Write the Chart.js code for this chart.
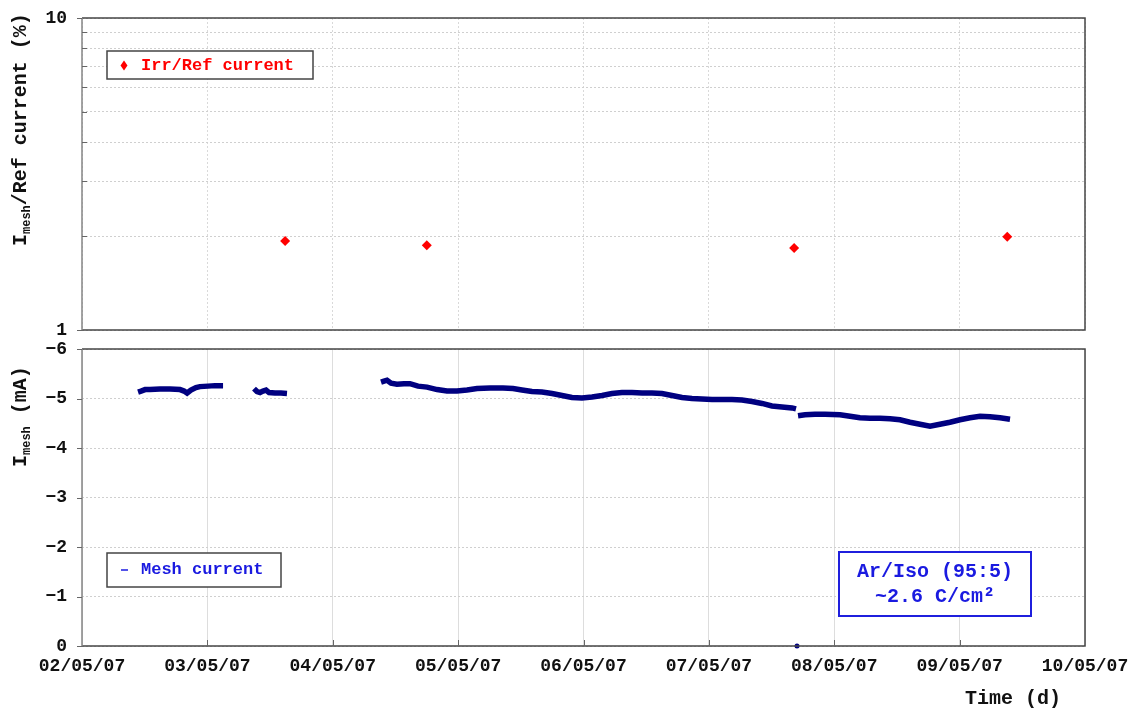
<!DOCTYPE html>
<html>
<head>
<meta charset="utf-8">
<title>Mesh current</title>
<script src="https://cdn.jsdelivr.net/npm/chart.js@4.4.1/dist/chart.umd.min.js"></script>
<style>
  html, body { margin: 0; padding: 0; background: #fff; }
  #wrap { position: relative; width: 1137px; height: 711px; }
  .panel { position: absolute; left: 0; width: 1137px; }
  #topPanel { top: 0; height: 340px; }
  #bottomPanel { top: 340px; height: 371px; }
</style>
</head>
<body>
<div id="wrap">
  <div class="panel" id="topPanel"><canvas id="ratioChart"></canvas></div>
  <div class="panel" id="bottomPanel"><canvas id="meshChart"></canvas></div>
</div>
<script>
// Days counted from 02/05/07 00:00
const dayLabels = ['02/05/07', '03/05/07', '04/05/07', '05/05/07', '06/05/07', '07/05/07', '08/05/07', '09/05/07', '10/05/07'];

// Irr/Ref current ratio (%)
const ratioTicks = [1, 10];
const ratioGrid = [1, 2, 3, 4, 5, 6, 7, 8, 9, 10];
const ratioDays = [1.62, 2.75, 5.68, 7.38];
const ratioValues = [1.93, 1.87, 1.83, 1.99];

// Mesh current (mA); null = no data logged
const meshTicks = [-6, -5, -4, -3, -2, -1, 0];
const meshDays = [
  0.447, 0.471, 0.503, 0.542, 0.622, 0.702, 0.782, 0.814, 0.838, 0.869, 0.909, 0.941, 1.005, 1.061, 1.125,
  1.25,
  1.372, 1.396, 1.420, 1.444, 1.468, 1.492, 1.539, 1.587, 1.635,
  2.0,
  2.385, 2.409, 2.433, 2.465, 2.512, 2.568, 2.616, 2.680, 2.752, 2.832, 2.911, 2.991, 3.071, 3.151, 3.254,
  3.358, 3.438, 3.509, 3.589, 3.669, 3.749, 3.829, 3.908, 3.988, 4.068, 4.148, 4.227, 4.307, 4.387, 4.467,
  4.546, 4.626, 4.706, 4.786, 4.865, 4.945, 5.025, 5.105, 5.184, 5.264, 5.344, 5.424, 5.503, 5.583, 5.663, 5.695,
  5.699, 5.703, 5.707,
  5.711, 5.767, 5.846, 5.926, 6.046, 6.126, 6.205, 6.285, 6.365, 6.445, 6.524, 6.604, 6.684, 6.764, 6.843,
  6.923, 7.003, 7.083, 7.163, 7.242, 7.322, 7.402
];
const meshCurrent = [
  -5.13, -5.15, -5.18, -5.18, -5.19, -5.19, -5.18, -5.15, -5.11, -5.17, -5.22, -5.24, -5.25, -5.26, -5.26,
  null,
  -5.20, -5.14, -5.12, -5.15, -5.17, -5.12, -5.11, -5.11, -5.10,
  null,
  -5.33, -5.35, -5.37, -5.31, -5.29, -5.30, -5.30, -5.25, -5.23, -5.18, -5.15, -5.15, -5.17, -5.20, -5.21,
  -5.21, -5.20, -5.17, -5.14, -5.13, -5.10, -5.06, -5.02, -5.01, -5.03, -5.06, -5.10, -5.12, -5.12, -5.11,
  -5.11, -5.10, -5.06, -5.02, -5.00, -4.99, -4.98, -4.98, -4.98, -4.97, -4.94, -4.90, -4.85, -4.83, -4.81, -4.79,
  null, 0, null,
  -4.65, -4.67, -4.68, -4.68, -4.67, -4.64, -4.61, -4.60, -4.60, -4.59, -4.57, -4.52, -4.48, -4.44, -4.48,
  -4.52, -4.57, -4.61, -4.64, -4.63, -4.61, -4.58
];

const MONO = "'Liberation Mono', 'Courier New', monospace";
const AXIS_W = 82;
const RIGHT_PAD = 52;
const GRID = '#cfcfcf';

// fixed y axis width, and no extra room for the end labels
function fitYAxis(s) {
  s.width = AXIS_W;
  s.paddingTop = 0;
  s.paddingBottom = 0;
}

// box round the plot area plus the small tick marks
const panelFrame = {
  id: 'panelFrame',
  afterDatasetsDraw(chart, args, opts) {
    const { ctx, chartArea: a, scales } = chart;
    ctx.save();
    ctx.lineWidth = 1.5;
    ctx.strokeStyle = '#454545';
    ctx.beginPath();
    ctx.moveTo(a.left, a.top);
    ctx.lineTo(a.right, a.top);
    ctx.lineTo(a.right, a.bottom);
    ctx.lineTo(a.left, a.bottom);
    ctx.stroke();
    ctx.strokeStyle = '#858585';
    ctx.beginPath();
    ctx.moveTo(a.left, a.top);
    ctx.lineTo(a.left, a.bottom);
    ctx.stroke();

    ctx.lineWidth = 1;
    ctx.strokeStyle = '#666';
    ctx.beginPath();
    (opts.outerY || []).forEach(v => {
      const y = Math.round(scales.y.getPixelForValue(v)) + 0.5;
      ctx.moveTo(a.left - 5, y); ctx.lineTo(a.left, y);
    });
    (opts.innerY || []).forEach(v => {
      const y = Math.round(scales.y.getPixelForValue(v)) + 0.5;
      ctx.moveTo(a.left, y); ctx.lineTo(a.left + 5, y);
    });
    (opts.innerX || []).forEach(v => {
      const x = Math.round(scales.x.getPixelForValue(v)) + 0.5;
      ctx.moveTo(x, a.bottom); ctx.lineTo(x, a.bottom - 6);
    });
    ctx.stroke();
    ctx.restore();
  }
};

// rotated axis title with a subscript part
function drawAxisTitle(ctx, x, yStart, parts) {
  ctx.save();
  ctx.translate(x, yStart);
  ctx.rotate(-Math.PI / 2);
  ctx.fillStyle = '#111';
  ctx.textBaseline = 'alphabetic';
  ctx.textAlign = 'left';
  let pos = 0;
  parts.forEach(p => {
    ctx.font = `bold ${p.size}px ${MONO}`;
    ctx.fillText(p.text, pos, p.dy || 0);
    pos += ctx.measureText(p.text).width;
  });
  ctx.restore();
}

const ratioOverlay = {
  id: 'ratioOverlay',
  afterDraw(chart) {
    const { ctx, chartArea: a } = chart;
    drawAxisTitle(ctx, 26, 246, [
      { text: 'I', size: 20 },
      { text: 'mesh', size: 12, dy: 4 },
      { text: '/Ref current (%)', size: 20 }
    ]);
    // legend box
    ctx.save();
    ctx.fillStyle = '#fff';
    ctx.fillRect(a.left + 25, 51, 206, 28);
    ctx.lineWidth = 1.5;
    ctx.strokeStyle = '#444';
    ctx.strokeRect(a.left + 25, 51, 206, 28);
    ctx.fillStyle = '#ff0000';
    ctx.beginPath();
    ctx.moveTo(a.left + 42, 60.5); ctx.lineTo(a.left + 45.5, 65.5);
    ctx.lineTo(a.left + 42, 70.5); ctx.lineTo(a.left + 38.5, 65.5);
    ctx.closePath(); ctx.fill();
    ctx.font = `bold 17px ${MONO}`;
    ctx.textBaseline = 'middle';
    ctx.fillText('Irr/Ref current', a.left + 59, 66);
    ctx.restore();
  }
};

const meshOverlay = {
  id: 'meshOverlay',
  afterDraw(chart) {
    const { ctx, chartArea: a } = chart;
    drawAxisTitle(ctx, 26, 127, [
      { text: 'I', size: 20 },
      { text: 'mesh', size: 12, dy: 4 },
      { text: ' (mA)', size: 20 }
    ]);
    ctx.save();
    // legend box
    ctx.fillStyle = '#fff';
    ctx.fillRect(a.left + 25, 213, 174, 34);
    ctx.lineWidth = 1.5;
    ctx.strokeStyle = '#444';
    ctx.strokeRect(a.left + 25, 213, 174, 34);
    ctx.strokeStyle = '#1a1ae0';
    ctx.lineWidth = 1.5;
    ctx.beginPath(); ctx.moveTo(a.left + 39, 230); ctx.lineTo(a.left + 46, 230); ctx.stroke();
    ctx.fillStyle = '#1a1ae0';
    ctx.font = `bold 17px ${MONO}`;
    ctx.textBaseline = 'middle';
    ctx.textAlign = 'left';
    ctx.fillText('Mesh current', a.left + 59, 230);
    // gas / charge note
    ctx.fillStyle = '#fff';
    ctx.fillRect(839, 212, 192, 64);
    ctx.lineWidth = 2;
    ctx.strokeStyle = '#1f1fdd';
    ctx.strokeRect(839, 212, 192, 64);
    ctx.fillStyle = '#1a1ae0';
    ctx.font = `bold 20px ${MONO}`;
    ctx.textAlign = 'center';
    ctx.fillText('Ar/Iso (95:5)', 935, 232);
    ctx.fillText('~2.6 C/cm\u00b2', 935, 257);
    // x axis title
    ctx.fillStyle = '#111';
    ctx.fillText('Time (d)', 1013, 359);
    ctx.restore();
  }
};

const ratioCtx = document.getElementById('ratioChart');
new Chart(ratioCtx.getContext('2d'), {
  type: 'scatter',
  data: {
    datasets: [{
      label: 'Irr/Ref current',
      data: ratioDays.map((d, i) => ({ x: d, y: ratioValues[i] })),
      pointStyle: 'rectRot',
      pointRadius: 5,
      backgroundColor: '#ff0000',
      borderColor: '#ff0000',
      borderWidth: 0
    }]
  },
  options: {
    responsive: true,
    maintainAspectRatio: false,
    animation: false,
    layout: { padding: { top: 18, right: RIGHT_PAD, bottom: 10, left: 0 } },
    plugins: {
      legend: { display: false },
      tooltip: { enabled: false },
      panelFrame: { outerY: ratioTicks, innerY: [2, 3, 4, 5, 6, 7, 8, 9] }
    },
    scales: {
      x: {
        type: 'linear', min: 0, max: 8,
        ticks: { display: false, stepSize: 1 },
        grid: { color: '#d9d9d9', drawTicks: false },
        border: { display: false, dash: [2, 2] },
        afterFit: s => { s.height = 0; s.paddingLeft = 0; s.paddingRight = 0; }
      },
      y: {
        type: 'logarithmic', min: 1, max: 10,
        afterBuildTicks: s => { s.ticks = ratioGrid.map(v => ({ value: v, major: false })); },
        ticks: {
          autoSkip: false,
          padding: 15,
          color: '#111',
          font: { family: MONO, size: 18, weight: 'bold' },
          callback: v => ratioTicks.includes(v) ? String(v) : ''
        },
        grid: { color: GRID, drawTicks: false },
        border: { display: false, dash: [2, 2] },
        afterFit: fitYAxis
      }
    }
  },
  plugins: [panelFrame, ratioOverlay]
});

const meshCtx = document.getElementById('meshChart');
new Chart(meshCtx.getContext('2d'), {
  type: 'line',
  data: {
    datasets: [{
      label: 'Mesh current',
      data: meshDays.map((d, i) => ({ x: d, y: meshCurrent[i] })),
      borderColor: '#000080',
      backgroundColor: '#000080',
      borderWidth: 5.5,
      pointRadius: c => (c.raw && c.raw.y === 0 ? 2.5 : 0),
      pointBorderWidth: 0,
      spanGaps: false,
      tension: 0,
      clip: false
    }]
  },
  options: {
    responsive: true,
    maintainAspectRatio: false,
    animation: false,
    layout: { padding: { top: 9, right: RIGHT_PAD, bottom: 0, left: 0 } },
    plugins: {
      legend: { display: false },
      tooltip: { enabled: false },
      panelFrame: { outerY: meshTicks, innerX: [1, 2, 3, 4, 5, 6, 7] }
    },
    scales: {
      x: {
        type: 'linear', min: 0, max: 8,
        ticks: {
          stepSize: 1,
          autoSkip: false,
          maxRotation: 0,
          padding: 10,
          color: '#111',
          font: { family: MONO, size: 18, weight: 'bold' },
          callback: v => dayLabels[v]
        },
        grid: { color: '#dddddd', drawTicks: false },
        border: { display: false },
        afterFit: s => { s.height = 65; s.paddingLeft = 0; s.paddingRight = 0; }
      },
      y: {
        type: 'linear', min: -6, max: 0, reverse: true,
        ticks: {
          stepSize: 1,
          padding: 15,
          color: '#111',
          font: { family: MONO, size: 18, weight: 'bold' },
          callback: v => (v < 0 ? '\u2212' + (-v) : String(v))
        },
        grid: { color: GRID, drawTicks: false },
        border: { display: false, dash: [2, 2] },
        afterFit: fitYAxis
      }
    }
  },
  plugins: [panelFrame, meshOverlay]
});
</script>
</body>
</html>
